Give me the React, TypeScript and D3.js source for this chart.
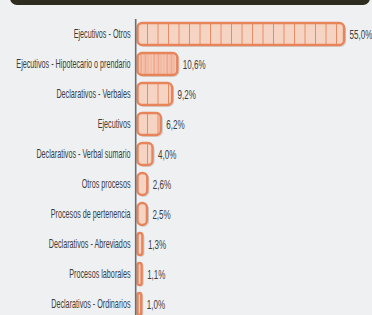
import React from "react";
import * as d3 from "d3";

const categories = [
  "Ejecutivos - Otros",
  "Ejecutivos - Hipotecario o prendario",
  "Declarativos - Verbales",
  "Ejecutivos",
  "Declarativos - Verbal sumario",
  "Otros procesos",
  "Procesos de pertenencia",
  "Declarativos - Abreviados",
  "Procesos laborales",
  "Declarativos - Ordinarios",
];
const values = [55.0, 10.6, 9.2, 6.2, 4.0, 2.6, 2.5, 1.3, 1.1, 1.0];
const valueLabels = ["55,0%", "10,6%", "9,2%", "6,2%", "4,0%", "2,6%", "2,5%", "1,3%", "1,1%", "1,0%"];
const barPatterns = ["seg", "dense", "seg", "seg", "seg", "seg", "seg", "seg", "seg", "seg"];

const W = 372;
const H = 315;
const BG = "#eff0f2";
const ORANGE = "#e8845a";
const PEACH = "#f6d4c4";
const TEXT = "#3c3c3c";
const FONT = "'Liberation Sans Narrow', 'Liberation Sans', Arial, sans-serif";

export default function App() {
  const x = d3.scaleLinear().domain([0, 55]).range([137.5, 344]);
  const y = d3.scaleBand<string>().domain(categories).range([19, 319]).paddingInner(0.27).paddingOuter(0.135);
  const bh = y.bandwidth();
  const x0 = x(0);

  return (
    <svg width={W} height={H} style={{ position: "absolute", left: 0, top: 0, background: BG }}>
      <defs>
        <pattern id="seg" patternUnits="userSpaceOnUse" x={x0} y={0} width={10.5} height={10}>
          <rect x={0} y={0} width={10.5} height={10} fill={PEACH} />
          <rect x={9.6} y={0} width={1.3} height={10} fill={ORANGE} />
        </pattern>
        <pattern id="dense" patternUnits="userSpaceOnUse" x={x0} y={0} width={13} height={10}>
          <rect x={0} y={0} width={13} height={10} fill={PEACH} />
          <rect x={0.5} y={0} width={1} height={10} fill={ORANGE} opacity={0.6} />
          <rect x={3} y={0} width={1.2} height={10} fill={ORANGE} opacity={0.85} />
          <rect x={5.5} y={0} width={1} height={10} fill={ORANGE} opacity={0.5} />
          <rect x={7.5} y={0} width={1.2} height={10} fill={ORANGE} opacity={0.85} />
          <rect x={10} y={0} width={1} height={10} fill={ORANGE} opacity={0.6} />
          <rect x={11.8} y={0} width={0.8} height={10} fill={ORANGE} opacity={0.45} />
        </pattern>
      </defs>
      <rect x={0} y={0} width={W} height={H} fill={BG} />
      <rect x={10} y={-12} width={360} height={17} rx={7} fill="#2d2c1f" />

      {categories.map((c, i) => {
        const v = values[i];
        const bx = x0;
        const bw = Math.max(x(v) - x0, 2);
        const by = y(c)!;
        const rx = Math.min(4.5, bw / 2);
        const cy = by + bh / 2;
        return (
          <g key={c}>
            <rect x={bx + 1.5} y={by + 1.2} width={bw} height={bh} rx={rx} fill="none" stroke="#c4c4c6" strokeWidth={1} />
            <rect x={bx} y={by} width={bw} height={bh} rx={rx} fill={`url(#${barPatterns[i]})`} stroke={ORANGE} strokeWidth={2.4} />
            <g transform={`translate(130.5, ${cy + 4.3}) scale(0.555, 1)`}>
              <text x={0} y={0} textAnchor="end" fontFamily={FONT} fontSize={13} fill={TEXT}>
                {c}
              </text>
            </g>
            <g transform={`translate(${Math.max(x(v), x0 + 3) + 5.5}, ${cy + 4.8}) scale(0.62, 1)`}>
              <text x={0} y={0} fontFamily={FONT} fontSize={13} fill={TEXT}>
                {valueLabels[i]}
              </text>
            </g>
          </g>
        );
      })}
      <line x1={135.7} x2={135.7} y1={19} y2={H} stroke="#6e6e6e" strokeWidth={1.6} />
    </svg>
  );
}
